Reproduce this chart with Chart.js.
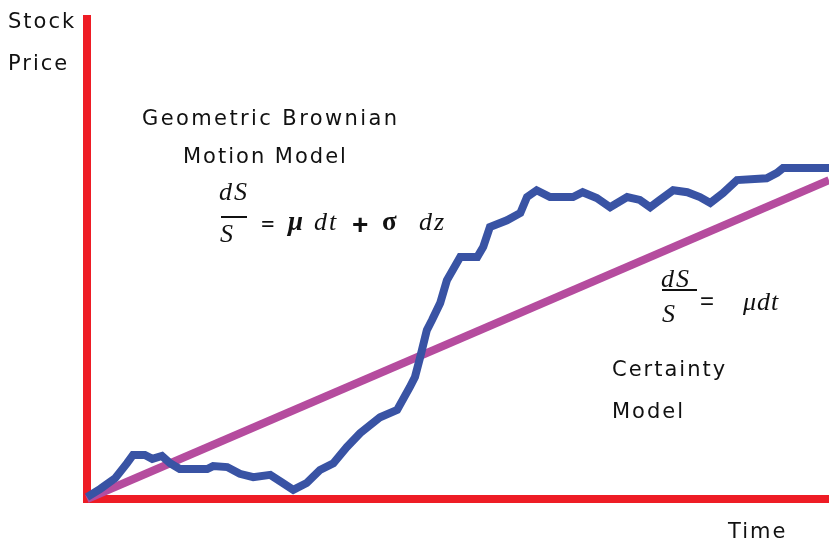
<!DOCTYPE html>
<html>
<head>
<meta charset="utf-8">
<script src="https://cdn.jsdelivr.net/npm/chart.js@4/dist/chart.umd.min.js"></script>
<style>
  html, body { margin: 0; padding: 0; background: #ffffff; }
  #wrap { width: 829px; height: 541px; }
</style>
</head>
<body>
<div id="wrap"><canvas id="c" width="829" height="541"></canvas></div>
<script>
// Time axis (0..100) and price axis (0..100)
const gbmTime = [0, 1.8, 3.8, 5.4, 6.2, 7.8, 8.8, 10.1, 11.2, 12.5, 16.2, 17.0, 18.9, 20.6, 22.4, 24.7, 26.0, 27.8, 29.6, 31.4, 33.2, 35.0, 36.8, 39.5, 41.8, 43.5, 44.2, 44.9, 45.8, 46.5, 47.6, 48.5, 50.3, 52.6, 53.4, 54.3, 56.6, 58.4, 59.3, 60.6, 62.4, 65.5, 66.8, 68.7, 70.5, 72.8, 74.5, 75.9, 77.2, 79.0, 80.9, 82.6, 84.0, 85.7, 87.6, 91.6, 93.0, 93.8, 100];
const gbmPrice = [0.4, 2.1, 4.3, 7.4, 9.1, 9.1, 8.3, 8.9, 7.4, 6.2, 6.2, 6.8, 6.6, 5.2, 4.5, 5.0, 3.7, 1.9, 3.3, 6.0, 7.4, 10.7, 13.6, 16.9, 18.4, 23.1, 25.2, 29.3, 34.9, 37.0, 40.5, 45.2, 50.0, 50.0, 52.1, 56.2, 57.6, 59.1, 62.4, 63.8, 62.4, 62.4, 63.4, 62.2, 60.3, 62.4, 61.8, 60.3, 61.8, 63.8, 63.4, 62.4, 61.2, 63.2, 65.9, 66.3, 67.4, 68.4, 68.4];
const certaintyTime = [0, 100];
const certaintyPrice = [0, 65.9];
const axisLabels = ["Stock", "Price", "Time"];
const modelLabels = ["Geometric Brownian", "Motion Model", "Certainty", "Model"];

const toPts = (xs, ys) => xs.map((x, i) => ({ x: x, y: ys[i] }));

const textPlugin = {
  id: 'annotText',
  afterDraw(chart) {
    const ctx = chart.ctx;
    ctx.save();
    ctx.fillStyle = '#111111';
    ctx.strokeStyle = '#111111';
    ctx.textAlign = 'left';
    ctx.textBaseline = 'alphabetic';
    ctx.letterSpacing = '2px';
    ctx.font = '21px "DejaVu Sans"';
    ctx.fillText(axisLabels[0], 8, 28);
    ctx.fillText(axisLabels[1], 8, 70);
    ctx.fillText(axisLabels[2], 728, 538);
    ctx.letterSpacing = '2.4px';
    ctx.fillText(modelLabels[0], 142, 125);
    ctx.letterSpacing = '2px';
    ctx.fillText(modelLabels[1], 183, 163);
    ctx.fillText(modelLabels[2], 612, 376);
    ctx.fillText(modelLabels[3], 612, 418);

    // Equation 1: dS/S = mu dt + sigma dz
    ctx.letterSpacing = '2px';
    ctx.font = 'italic 26px "Liberation Serif"';
    ctx.fillText('dS', 219, 200);
    ctx.fillText('S', 220, 242);
    ctx.lineWidth = 2;
    ctx.beginPath(); ctx.moveTo(221, 217); ctx.lineTo(247, 217); ctx.stroke();
    ctx.letterSpacing = '0px';
    ctx.font = 'bold 24px "Liberation Serif"';
    ctx.fillText('=', 261, 232);
    ctx.font = 'bold italic 27px "Liberation Serif"';
    ctx.fillText('\u03bc', 288, 230);
    ctx.font = 'italic 26px "Liberation Serif"';
    ctx.letterSpacing = '2px';
    ctx.fillText('dt', 314, 230);
    ctx.letterSpacing = '0px';
    ctx.font = 'bold 28px "Liberation Sans"';
    ctx.fillText('+', 352, 234);
    ctx.font = 'bold 27px "Liberation Serif"';
    ctx.fillText('\u03c3', 382, 230);
    ctx.font = 'italic 26px "Liberation Serif"';
    ctx.letterSpacing = '2px';
    ctx.fillText('dz', 419, 230);

    // Equation 2: dS/S = mu dt
    ctx.font = 'italic 26px "Liberation Serif"';
    ctx.fillText('dS', 661, 287);
    ctx.fillText('S', 662, 322);
    ctx.beginPath(); ctx.moveTo(662, 290); ctx.lineTo(697, 290); ctx.stroke();
    ctx.letterSpacing = '0px';
    ctx.font = '24px "Liberation Sans"';
    ctx.fillText('=', 700, 309);
    ctx.font = 'italic 26px "Liberation Serif"';
    ctx.letterSpacing = '1px';
    ctx.fillText('\u03bcdt', 743, 310);
    ctx.restore();
  }
};

const zeroSize = (s) => { if (s.isHorizontal()) { s.height = 0; } else { s.width = 0; } };

new Chart(document.getElementById('c'), {
  type: 'line',
  data: {
    datasets: [
      {
        label: 'Geometric Brownian Motion',
        data: toPts(gbmTime, gbmPrice),
        borderColor: '#3953A4',
        borderWidth: 8,
        pointRadius: 0,
        tension: 0,
        fill: false,
        borderJoinStyle: 'miter',
        clip: 10
      },
      {
        label: 'Certainty',
        data: toPts(certaintyTime, certaintyPrice),
        borderColor: '#B54C9E',
        borderWidth: 8,
        pointRadius: 0,
        tension: 0,
        fill: false,
        clip: 10
      }
    ]
  },
  options: {
    responsive: false,
    animation: false,
    events: [],
    layout: { padding: { left: 87, right: 0, top: 19, bottom: 42 } },
    plugins: { legend: { display: false }, tooltip: { enabled: false }, title: { display: false } },
    scales: {
      x: {
        type: 'linear', min: 0, max: 100,
        grid: { display: false, drawTicks: false },
        ticks: { display: false },
        border: { display: true, color: '#EE1C25', width: 8 },
        afterFit: zeroSize
      },
      y: {
        type: 'linear', min: 0, max: 99.2,
        grid: { display: false, drawTicks: false },
        ticks: { display: false },
        border: { display: true, color: '#EE1C25', width: 8 },
        afterFit: zeroSize
      }
    }
  },
  plugins: [textPlugin]
});
</script>
</body>
</html>
